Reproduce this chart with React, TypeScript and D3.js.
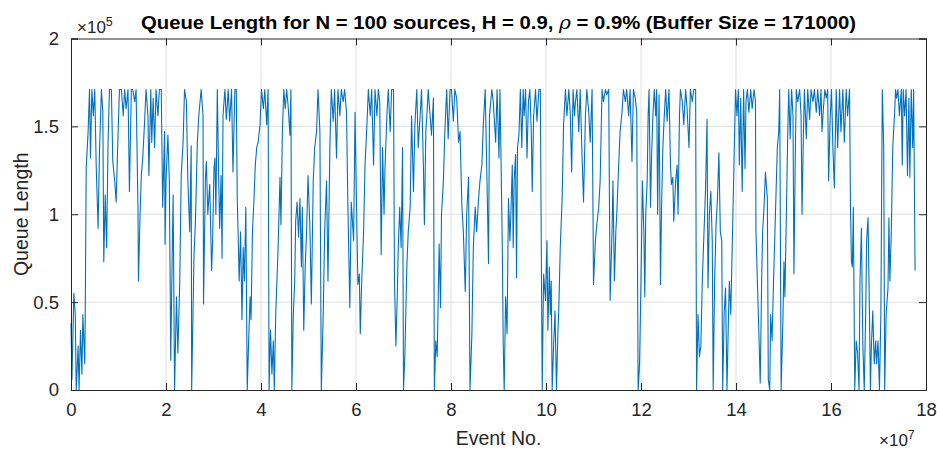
import React, { useEffect, useRef } from "react";
import * as d3 from "d3";

// [event no. (x1e7), queue length (x1e5)]
const samples: [number, number][] = [
  [0.00, 0.38], [0.02, 0.06], [0.06, 0.55], [0.09, 0.43], [0.11, 0], [0.15, 0.25], [0.17, 0], [0.20, 0.34],
  [0.23, 0.09], [0.25, 0.43], [0.29, 0.15], [0.30, 0.43], [0.32, 1.26], [0.36, 1.47], [0.39, 1.71], [0.41, 1.32],
  [0.44, 1.71], [0.47, 1.56], [0.50, 1.71], [0.53, 1.28], [0.57, 0.92], [0.60, 1.36], [0.64, 1.71], [0.67, 1.58],
  [0.69, 0.73], [0.72, 1.11], [0.75, 0.81], [0.78, 1.41], [0.81, 1.71], [0.85, 1.71], [0.88, 1.30], [0.92, 1.19],
  [0.95, 1.07], [0.99, 1.45], [1.02, 1.71], [1.06, 1.71], [1.10, 1.56], [1.13, 1.71], [1.16, 1.60], [1.20, 1.71],
  [1.23, 1.13], [1.27, 1.71], [1.30, 1.71], [1.34, 1.64], [1.37, 1.71], [1.41, 1.04], [1.42, 0.62], [1.45, 0.96],
  [1.48, 1.22], [1.51, 1.32], [1.55, 1.53], [1.58, 1.71], [1.62, 1.56], [1.64, 1.22], [1.68, 1.71], [1.70, 1.41],
  [1.73, 1.66], [1.76, 1.38], [1.79, 1.71], [1.83, 1.56], [1.86, 1.71], [1.90, 1.71], [1.93, 1.04], [1.97, 1.47],
  [1.98, 0.83], [2.00, 1.19], [2.04, 1.45], [2.07, 1.19], [2.10, 0.17], [2.12, 0.58], [2.15, 1.11], [2.18, 0],
  [2.22, 0.53], [2.25, 0.21], [2.29, 0.62], [2.32, 1.22], [2.36, 1.41], [2.39, 1.71], [2.43, 1.64], [2.46, 1.19],
  [2.50, 0.90], [2.53, 1.39], [2.54, 0], [2.59, 0.77], [2.62, 0.96], [2.66, 1.41], [2.69, 1.56], [2.74, 1.71],
  [2.78, 1.56], [2.79, 0.49], [2.83, 1.21], [2.85, 1.30], [2.88, 1.00], [2.92, 1.17],
  [2.96, 0.68], [2.98, 0.83], [3.01, 1.26], [3.03, 1.32], [3.05, 1.00], [3.08, 1.71], [3.11, 1.19], [3.13, 0.92],
  [3.16, 1.22], [3.18, 0.75], [3.20, 1.56], [3.24, 1.71], [3.27, 1.54], [3.31, 1.71], [3.34, 1.53], [3.38, 1.71],
  [3.41, 1.24], [3.45, 1.71], [3.48, 1.71], [3.50, 1.09], [3.52, 0.87], [3.54, 0.62], [3.57, 0.90], [3.60, 0.40],
  [3.625, 0.81], [3.65, 0.62], [3.68, 1.04], [3.71, 0], [3.74, 0.28], [3.77, 0.53], [3.79, 0.40], [3.82, 0.90],
  [3.85, 1.07], [3.88, 1.28], [3.91, 1.38], [3.94, 1.41], [3.98, 1.51], [4.01, 1.71], [4.05, 1.60], [4.08, 1.71],
  [4.12, 1.51], [4.15, 1.71], [4.17, 0], [4.20, 0.34], [4.23, 0.09], [4.26, 0.28], [4.28, 0], [4.31, 0.43],
  [4.36, 0.81], [4.40, 1.21], [4.42, 0.94], [4.45, 1.47], [4.48, 1.71], [4.51, 1.60], [4.54, 1.71], [4.57, 1.62],
  [4.61, 1.45], [4.63, 1.71], [4.65, 0], [4.68, 0.43], [4.71, 0.62], [4.73, 0.96], [4.76, 1.07], [4.79, 0.87],
  [4.82, 1.09], [4.85, 0.70], [4.87, 1.04], [4.90, 0.34], [4.93, 0.70], [4.96, 0.90], [4.99, 1.22], [5.03, 0.92],
  [5.06, 0.49], [5.10, 1.19], [5.13, 1.38], [5.17, 1.47], [5.20, 1.71], [5.24, 1.47], [5.27, 0], [5.31, 0.43],
  [5.34, 0.90], [5.38, 1.19], [5.41, 0.62], [5.45, 1.38], [5.48, 1.71], [5.52, 1.53], [5.55, 1.71], [5.59, 1.32],
  [5.62, 1.71], [5.66, 1.56], [5.69, 1.71], [5.73, 1.64], [5.76, 1.71], [5.80, 1.58], [5.83, 1.04], [5.87, 0.47],
  [5.90, 1.07],
  [5.95, 0.85], [5.98, 1.58], [6.02, 0.90], [6.04, 0.60], [6.07, 0.66], [6.09, 0.32], [6.12, 0.62], [6.16, 0.90],
  [6.19, 1.28], [6.23, 1.51], [6.26, 1.71], [6.30, 1.56], [6.33, 1.71], [6.37, 1.28], [6.40, 1.71], [6.44, 1.56],
  [6.47, 1.71], [6.50, 1.64], [6.53, 0.77], [6.56, 1.38], [6.59, 1.00], [6.61, 1.26], [6.65, 1.56], [6.68, 1.71],
  [6.72, 1.47], [6.75, 1.71], [6.79, 1.71], [6.81, 0.62], [6.84, 0.25], [6.87, 0.55], [6.89, 0.81], [6.92, 1.04],
  [6.95, 0.81], [6.98, 1.38], [7.00, 0], [7.03, 0.21], [7.07, 0.70], [7.10, 0.90], [7.14, 1.04], [7.17, 1.56],
  [7.21, 1.13], [7.24, 1.51], [7.28, 1.71], [7.31, 1.38], [7.35, 1.56], [7.38, 1.71], [7.42, 1.26], [7.44, 0.94],
  [7.47, 1.47], [7.50, 1.60], [7.52, 1.71], [7.56, 1.56], [7.59, 1.45], [7.63, 1.66], [7.65, 0], [7.68, 0.28],
  [7.71, 0.19], [7.75, 0.83], [7.78, 0.47], [7.80, 1.00], [7.84, 1.19], [7.87, 1.47], [7.91, 1.71], [7.94, 1.43],
  [7.98, 1.71], [8.01, 1.71], [8.05, 1.53], [8.08, 1.71], [8.12, 1.66], [8.16, 1.41], [8.19, 1.47], [8.23, 1.04],
  [8.26, 0.90], [8.30, 0.56], [8.33, 1.00], [8.37, 1.21], [8.40, 0], [8.44, 0.32], [8.47, 0.81], [8.51, 1.04],
  [8.54, 0.90], [8.58, 1.09], [8.61, 1.19], [8.65, 1.28], [8.68, 1.51], [8.72, 1.71], [8.75, 1.30], [8.79, 0.72],
  [8.81, 1.56], [8.86, 1.71], [8.89, 1.64],
  [8.94, 1.41], [8.97, 1.71], [9.01, 1.32], [9.03, 1.71], [9.05, 1.38], [9.08, 0.81], [9.10, 0.25], [9.12, 0],
  [9.15, 0.53], [9.18, 0.32], [9.21, 1.09], [9.24, 0.85], [9.26, 1.00], [9.29, 1.28], [9.31, 0.81], [9.33, 1.19],
  [9.36, 1.34], [9.38, 0.64], [9.40, 1.38], [9.43, 1.45], [9.46, 1.71], [9.49, 1.38], [9.52, 1.71], [9.54, 1.56],
  [9.57, 1.71], [9.60, 1.32], [9.63, 1.64], [9.66, 1.71], [9.69, 1.47], [9.71, 1.13], [9.74, 1.56], [9.78, 1.71],
  [9.81, 1.53], [9.85, 1.71], [9.88, 1.71], [9.92, 0], [9.95, 0.66], [9.99, 0.51], [10.02, 0.85], [10.04, 0.34],
  [10.07, 0.70], [10.09, 0.43], [10.11, 0.62], [10.13, 0], [10.16, 0.25], [10.19, 0.45], [10.22, 0], [10.25, 0.32],
  [10.27, 0.47], [10.30, 0.81], [10.34, 1.09], [10.37, 1.51], [10.41, 1.71], [10.44, 1.56], [10.48, 1.71], [10.51, 1.58],
  [10.54, 1.24], [10.57, 1.71], [10.60, 1.56], [10.62, 1.64], [10.65, 1.71], [10.69, 1.47], [10.72, 1.71], [10.76, 1.32],
  [10.79, 1.07], [10.83, 1.56], [10.86, 1.71], [10.90, 1.58], [10.93, 1.41], [10.97, 1.71], [10.99, 1.00], [11.00, 0.60],
  [11.04, 0.85], [11.07, 0.94], [11.11, 1.04], [11.14, 1.19], [11.18, 1.71], [11.21, 1.64], [11.25, 1.71], [11.28, 1.68],
  [11.32, 1.71], [11.35, 0.51], [11.39, 0.90], [11.41, 1.19], [11.44, 0.62], [11.47, 0.90], [11.49, 1.00], [11.53, 1.28],
  [11.56, 1.47], [11.60, 1.58], [11.63, 1.71], [11.67, 1.64], [11.70, 1.71], [11.74, 1.56], [11.77, 1.71], [11.81, 1.30],
  [11.84, 1.71], [11.88, 1.66], [11.91, 1.58], [11.94, 0],
  [11.97, 0.15], [12.00, 0.62], [12.03, 1.19], [12.06, 0.90], [12.08, 0.53], [12.10, 1.00], [12.13, 1.19], [12.15, 1.56],
  [12.17, 1.71], [12.20, 1.04], [12.22, 1.30], [12.25, 1.56], [12.28, 1.71], [12.31, 1.56], [12.33, 1.71], [12.35, 1.00],
  [12.38, 1.68], [12.41, 0.60], [12.43, 1.00], [12.46, 1.38], [12.49, 1.56], [12.52, 1.71], [12.55, 1.53], [12.59, 1.71],
  [12.62, 1.28], [12.64, 1.17], [12.67, 1.21], [12.69, 0.96], [12.73, 1.19], [12.76, 1.28], [12.78, 1.00], [12.81, 1.56],
  [12.83, 1.71], [12.87, 1.64], [12.90, 1.51], [12.94, 1.71], [12.97, 1.60], [13.01, 1.38], [13.04, 1.71], [13.08, 1.64],
  [13.11, 1.71], [13.15, 1.71], [13.17, 0], [13.20, 0.43], [13.23, 0.19], [13.26, 0.25], [13.29, 0.62], [13.32, 0.85],
  [13.36, 1.15], [13.39, 1.54], [13.41, 0.58], [13.44, 1.00], [13.47, 1.13], [13.50, 0.85], [13.52, 0], [13.55, 0.62],
  [13.58, 0.94], [13.61, 1.09], [13.64, 1.35], [13.67, 0.90], [13.70, 0.85], [13.72, 0], [13.75, 0.43], [13.78, 0.58],
  [13.81, 0], [13.84, 0.40], [13.86, 0.62], [13.89, 0.43], [13.92, 0.81], [13.95, 1.19], [13.99, 1.71], [14.02, 1.56],
  [14.05, 1.71], [14.07, 1.28], [14.10, 1.66], [14.13, 1.13], [14.16, 1.71], [14.19, 1.26], [14.21, 1.64], [14.24, 1.71],
  [14.27, 1.58], [14.31, 1.71], [14.34, 1.60], [14.38, 1.71], [14.41, 1.64], [14.42, 0.90], [14.45, 0.62], [14.48, 0.34],
  [14.51, 0.04], [14.54, 0.62], [14.56, 0.90], [14.59, 1.04], [14.62, 1.24], [14.66, 1.09], [14.68, 0.06], [14.71, 0],
  [14.73, 0.43], [14.76, 0.28], [14.79, 0.62], [14.82, 0.90], [14.85, 1.19], [14.87, 1.38], [14.90, 1.47], [14.92, 1.71],
  [14.95, 0], [14.99, 0.43], [15.01, 0.73], [15.03, 0.53], [15.06, 1.00], [15.09, 1.47], [15.11, 1.71], [15.14, 1.43],
  [15.17, 1.71], [15.20, 1.56], [15.22, 0.66], [15.25, 1.38], [15.27, 1.71], [15.30, 1.64], [15.34, 1.71], [15.37, 1.56],
  [15.39, 1.00], [15.42, 1.47], [15.44, 1.71], [15.48, 1.43], [15.51, 1.71], [15.55, 1.54], [15.58, 1.71], [15.62, 1.64],
  [15.65, 1.71], [15.69, 1.58], [15.72, 1.71], [15.76, 1.56], [15.79, 1.71], [15.81, 1.47], [15.84, 1.60], [15.87, 1.71],
  [15.90, 1.66], [15.93, 1.71], [15.95, 1.19], [15.98, 1.53], [16.01, 1.71], [16.04, 1.38], [16.07, 1.15], [16.11, 1.71],
  [16.14, 1.38], [16.18, 1.71], [16.21, 1.47], [16.25, 1.71], [16.28, 1.41], [16.32, 1.71], [16.35, 1.56], [16.39, 1.71],
  [16.41, 1.04], [16.43, 0.73], [16.45, 0.70], [16.47, 1.04], [16.50, 0], [16.53, 0.28], [16.56, 0.21], [16.59, 0],
  [16.61, 0.62], [16.64, 0.92], [16.67, 0.26], [16.70, 0], [16.73, 0.43], [16.75, 0.85], [16.78, 0.98], [16.81, 0.43],
  [16.83, 0], [16.85, 0.25], [16.88, 0.45], [16.91, 0.15], [16.94, 0.28], [16.96, 0.15], [16.99, 0.28], [17.02, 0],
  [17.05, 0.43], [17.08, 1.71], [17.11, 1.38], [17.13, 0], [17.16, 0.43], [17.20, 0.58], [17.22, 0.98], [17.24, 0.62],
  [17.27, 0.90], [17.30, 1.38], [17.34, 1.58], [17.36, 1.71], [17.38, 1.66], [17.41, 1.71], [17.44, 1.56], [17.48, 1.71],
  [17.50, 1.28], [17.52, 1.71], [17.55, 1.56], [17.58, 1.71], [17.61, 1.22], [17.64, 1.66], [17.66, 1.21], [17.69, 1.71],
  [17.72, 1.38], [17.74, 1.71], [17.77, 0.68],
];

const xTicks = [0, 2, 4, 6, 8, 10, 12, 14, 16, 18];
const yTicks = [0, 0.5, 1, 1.5, 2];

const FONT = "'Liberation Sans', Arial, Helvetica, sans-serif";
const AXIS = "#262626";

const App: React.FC = () => {
  const svgRef = useRef<SVGSVGElement | null>(null);

  useEffect(() => {
    if (!svgRef.current) return;
    const width = 937;
    const height = 450;
    const margin = { top: 38.5, right: 11, bottom: 60, left: 71 };
    const innerW = width - margin.left - margin.right;
    const innerH = height - margin.top - margin.bottom;

    const svg = d3.select(svgRef.current);
    svg.selectAll("*").remove();
    svg.attr("width", width).attr("height", height);

    svg.append("rect").attr("width", width).attr("height", height).attr("fill", "#fff");

    const g = svg.append("g").attr("transform", `translate(${margin.left},${margin.top})`);

    const x = d3.scaleLinear().domain([0, 18]).range([0, innerW]);
    const y = d3.scaleLinear().domain([0, 2]).range([innerH, 0]);

    // grid
    g.append("g")
      .selectAll("line")
      .data(xTicks.slice(1, -1))
      .enter()
      .append("line")
      .attr("x1", d => x(d)).attr("x2", d => x(d))
      .attr("y1", 0).attr("y2", innerH)
      .attr("stroke", "#dfdfdf").attr("stroke-width", 1);
    g.append("g")
      .selectAll("line")
      .data(yTicks.slice(1, -1))
      .enter()
      .append("line")
      .attr("y1", d => y(d)).attr("y2", d => y(d))
      .attr("x1", 0).attr("x2", innerW)
      .attr("stroke", "#dfdfdf").attr("stroke-width", 1);

    // trace
    const line = d3.line<[number, number]>()
      .x(d => x(d[0]))
      .y(d => y(d[1]));
    g.append("path")
      .datum(samples)
      .attr("d", line)
      .attr("fill", "none")
      .attr("stroke", "#0072BD")
      .attr("stroke-width", 1.1)
      .attr("stroke-linejoin", "round");

    // axes, box style with inward ticks on all sides
    const tl = 7;
    const bottom = g.append("g").attr("transform", `translate(0,${innerH})`)
      .call(d3.axisBottom(x).tickValues(xTicks).tickSize(-tl).tickPadding(13).tickFormat(d3.format("d")));
    const top = g.append("g")
      .call(d3.axisTop(x).tickValues(xTicks).tickSize(-tl).tickFormat(() => ""));
    const left = g.append("g")
      .call(d3.axisLeft(y).tickValues(yTicks).tickSize(-tl).tickPadding(12).tickFormat(d => String(d)));
    const right = g.append("g").attr("transform", `translate(${innerW},0)`)
      .call(d3.axisRight(y).tickValues(yTicks).tickSize(-tl).tickFormat(() => ""));

    [bottom, top, left, right].forEach(a => {
      a.selectAll(".domain").attr("stroke", AXIS).attr("stroke-width", 1);
      a.selectAll(".tick line").attr("stroke", AXIS);
      a.selectAll("text")
        .attr("fill", AXIS)
        .style("font-family", FONT)
        .style("font-size", "18.5px");
    });

    // exponent labels
    const xe = svg.append("text")
      .attr("x", margin.left + 6).attr("y", margin.top - 6)
      .attr("fill", AXIS).style("font-family", FONT).style("font-size", "17px");
    xe.append("tspan").text("\u00d710");
    xe.append("tspan").attr("dy", -7).style("font-size", "12.5px").text("5");

    const ye = svg.append("text")
      .attr("x", margin.left + innerW - 47).attr("y", height - 4)
      .attr("fill", AXIS).style("font-family", FONT).style("font-size", "17px");
    ye.append("tspan").text("\u00d710");
    ye.append("tspan").attr("dy", -7).style("font-size", "12.5px").text("7");

    // axis labels
    svg.append("text")
      .attr("x", margin.left + innerW / 2).attr("y", 445)
      .attr("text-anchor", "middle")
      .attr("fill", AXIS).style("font-family", FONT).style("font-size", "19.5px")
      .text("Event No.");
    svg.append("text")
      .attr("transform", `translate(28,${margin.top + innerH / 2}) rotate(-90)`)
      .attr("text-anchor", "middle")
      .attr("fill", AXIS).style("font-family", FONT).style("font-size", "19.5px")
      .text("Queue Length");

    // title
    const t = svg.append("text")
      .attr("x", margin.left + innerW / 2).attr("y", 29)
      .attr("text-anchor", "middle")
      .attr("textLength", 715).attr("lengthAdjust", "spacingAndGlyphs")
      .attr("fill", "#000").style("font-family", FONT).style("font-size", "19px")
      .style("font-weight", "bold");
    t.append("tspan").text("Queue Length for N = 100 sources, H = 0.9, ");
    t.append("tspan").style("font-style", "italic").style("font-weight", "normal")
      .style("font-family", "'DejaVu Serif', serif").text("\u03c1");
    t.append("tspan").text(" = 0.9% (Buffer Size = 171000)");
  }, []);

  return (
    <svg ref={svgRef} style={{ position: "absolute", left: 0, top: 0, display: "block" }} />
  );
};

export default App;
